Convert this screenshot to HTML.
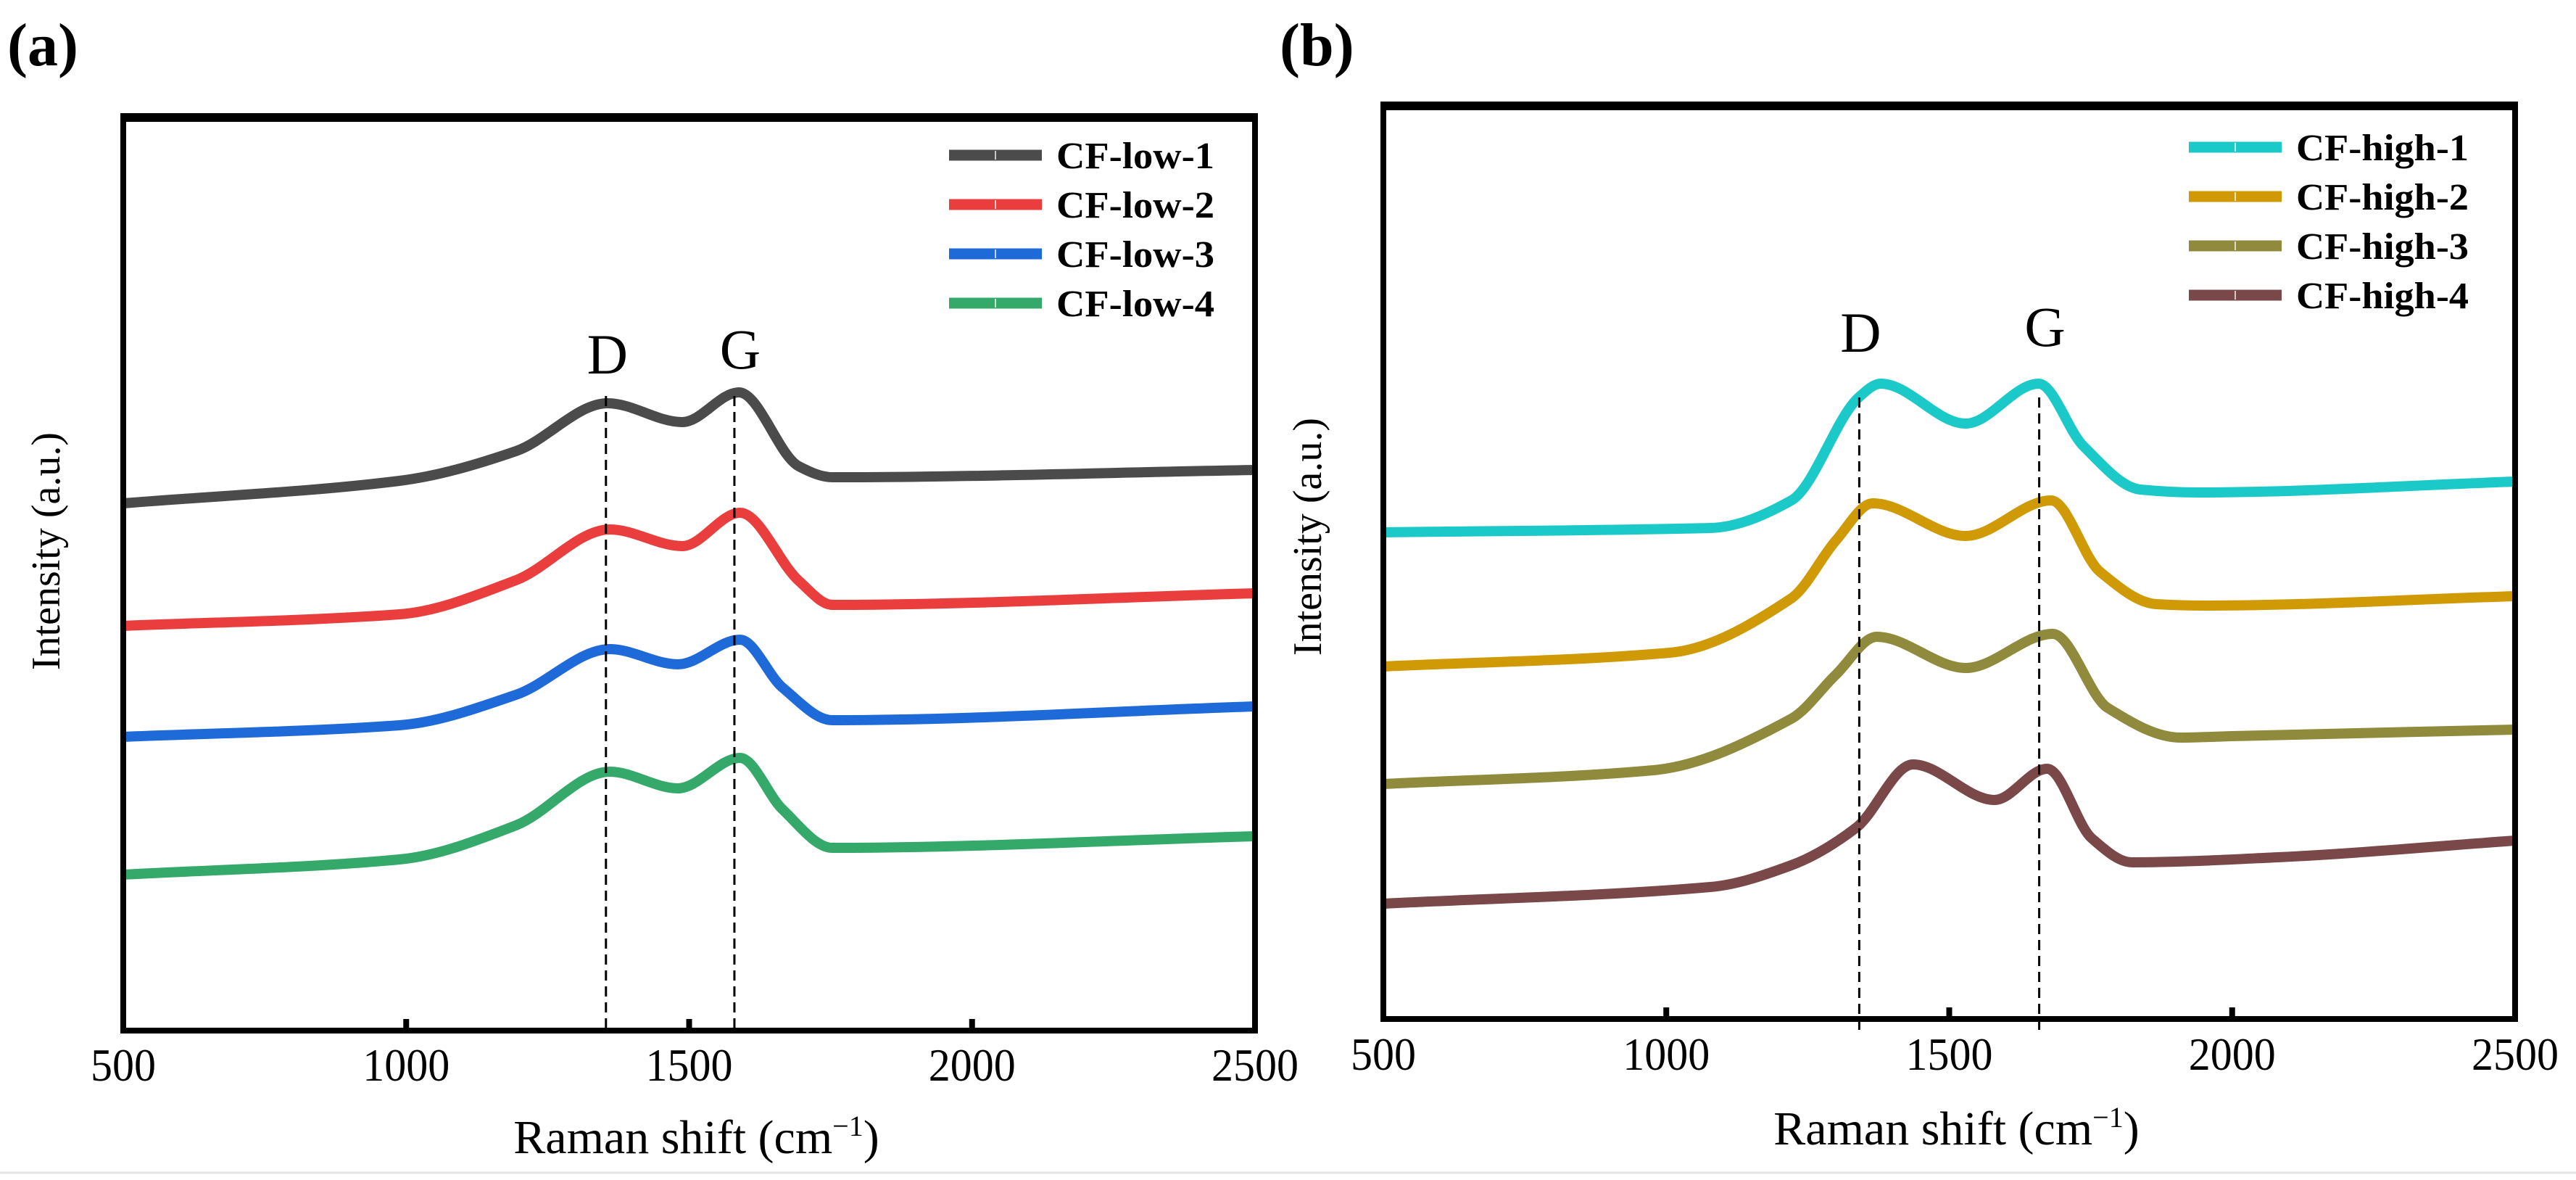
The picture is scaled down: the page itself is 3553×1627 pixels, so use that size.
<!DOCTYPE html>
<html><head><meta charset="utf-8"><style>
html,body{margin:0;padding:0;background:#fff;}
svg{display:block;}
text{font-family:"Liberation Serif",serif;fill:#000;}
</style></head><body>
<svg id="fig" width="3553" height="1627" viewBox="0 0 3553 1627" xmlns="http://www.w3.org/2000/svg">
<line x1="0" y1="1617" x2="3553" y2="1617" stroke="#e6e6e6" stroke-width="3"/>
</svg>
<script>
// ---- Panel (a) data ----
const xTicks = [500, 1000, 1500, 2000, 2500];
const xTickLabels = ["500", "1000", "1500", "2000", "2500"];
const lowNames = ["CF-low-1", "CF-low-2", "CF-low-3", "CF-low-4"];
const lowColors = ["#4b4b4b", "#ea3e3e", "#1e6ad8", "#35a96a"];
const lowX = [
  [500, 988, 1194, 1356, 1488, 1588, 1694, 1753, 2500],
  [500, 988, 1194, 1360, 1488, 1590, 1694, 1753, 2500],
  [500, 988, 1194, 1360, 1480, 1590, 1665, 1753, 2500],
  [500, 988, 1194, 1360, 1480, 1590, 1665, 1753, 2500]
];
const lowY = [
  [727, 758, 799, 865, 839, 880, 778, 763, 773],
  [558, 574, 621, 691, 668, 714, 620, 587, 603],
  [405, 421, 463, 526, 505, 539, 473, 428, 447],
  [215, 236, 283, 357, 334, 376, 305, 252, 268]
];
const lowPeaks = [1353, 1580];
// ---- Panel (b) data ----
const highNames = ["CF-high-1", "CF-high-2", "CF-high-3", "CF-high-4"];
const highColors = ["#1cc9c9", "#cf9a06", "#8f8a3c", "#7a4848"];
const highX = [
  [500, 1078, 1221, 1340, 1379, 1529, 1658, 1737, 1838, 1938, 2500],
  [500, 1006, 1221, 1300, 1365, 1529, 1680, 1766, 1866, 1950, 2500],
  [500, 977, 1221, 1300, 1372, 1529, 1683, 1780, 1909, 2000, 2500],
  [500, 1078, 1221, 1336, 1436, 1580, 1673, 1752, 1823, 2081, 2500]
];
const highY = [
  [671, 677, 715, 857, 876, 821, 876, 790, 730, 726, 741],
  [486, 505, 580, 660, 711, 666, 715, 617, 572, 570, 583],
  [324, 343, 414, 475, 527, 484, 531, 429, 388, 390, 399],
  [159, 182, 212, 264, 351, 302, 345, 249, 216, 223, 246]
];
const highPeaks = [1341, 1659];

const NS = "http://www.w3.org/2000/svg";
const svg = document.getElementById("fig");
function mk(tag, attrs, parent, txt) {
  const e = document.createElementNS(NS, tag);
  for (const k in attrs) e.setAttribute(k, attrs[k]);
  if (txt !== undefined) e.textContent = txt;
  (parent || svg).appendChild(e);
  return e;
}
// monotone cubic (Fritsch-Carlson) in x
function spline(pts) {
  const n = pts.length, d = [], m = [];
  for (let i = 0; i < n - 1; i++) d.push((pts[i+1][1] - pts[i][1]) / (pts[i+1][0] - pts[i][0]));
  m[0] = d[0]; m[n-1] = d[n-2];
  for (let i = 1; i < n - 1; i++) m[i] = (d[i-1] * d[i] <= 0) ? 0 : 2 / (1 / d[i-1] + 1 / d[i]);
  let s = "M" + pts[0][0] + "," + pts[0][1];
  for (let i = 0; i < n - 1; i++) {
    const h = pts[i+1][0] - pts[i][0];
    s += " C" + (pts[i][0] + h / 3) + "," + (pts[i][1] + m[i] * h / 3) + " " +
         (pts[i+1][0] - h / 3) + "," + (pts[i+1][1] - m[i+1] * h / 3) + " " + pts[i+1][0] + "," + pts[i+1][1];
  }
  return s;
}
function panel(cfg) {
  const g = mk("g", {});
  
  
  const L = cfg.left, R = cfg.right, T = cfg.top, B = cfg.bottom;
  const sx = v => L + (v - 500) / 2000 * (R - L);
  const sy = v => B - v;
  cfg.xs.forEach((xs, i) => {
    const pts = xs.map((x, j) => [sx(x), sy(cfg.ys[i][j])]);
    const p = mk("path", {d: spline(pts), fill: "none", stroke: cfg.colors[i], "stroke-width": 14, "stroke-linejoin": "round"}, g);
    
    
  });
  cfg.peaks.forEach((pk, i) => {
    const l = mk("line", {x1: sx(pk), x2: sx(pk), y1: cfg.dashTop, y2: cfg.dashBottom, stroke: "#000", "stroke-width": 3, "stroke-dasharray": "14,8"}, g);
    
    
    const t = mk("text", {x: sx(pk) + (i === 0 ? 2 : 8), y: cfg.labelY[i], "font-size": 78, "text-anchor": "middle"}, g, i === 0 ? "D" : "G");
    
    
  });
  const f = mk("rect", {x: L, y: T, width: R - L, height: B - T, fill: "none", stroke: "#000", "stroke-width": 8}, g);
  
  
  const topBar = mk("line", {x1: L - 4, x2: R + 4, y1: T, y2: T, stroke: "#000", "stroke-width": 12}, g);
  
  
  xTicks.forEach((v, i) => {
    if (i > 0 && i < xTicks.length - 1) {
      const tk = mk("line", {x1: sx(v), x2: sx(v), y1: B, y2: B - 16, stroke: "#000", "stroke-width": 8}, g);
      
      
    }
    const tl = mk("text", {x: sx(v), y: cfg.tickLabelY, "font-size": 64, "text-anchor": "middle", "textLength": xTickLabels[i].length * 30, "lengthAdjust": "spacingAndGlyphs"}, g, xTickLabels[i]);
    
    
  });
  const xt = mk("text", {x: (L + R) / 2 + 10, y: cfg.titleY, "font-size": 66, "text-anchor": "middle"}, g);
  
  
  mk("tspan", {}, xt, "Raman shift (cm");
  mk("tspan", {dy: -24, "font-size": 40}, xt, "\u22121");
  mk("tspan", {dy: 24}, xt, ")");
  const yt = mk("text", {x: 0, y: 0, "font-size": 56, "text-anchor": "middle", transform: "translate(" + cfg.yTitleX + "," + cfg.yTitleY + ") rotate(-90)"}, g, "Intensity (a.u.)");
  
  
  cfg.names.forEach((n, i) => {
    const y = cfg.legY + i * cfg.legStep;
    const lg = mk("g", {}, g);
    
    
    mk("line", {x1: cfg.legX, x2: cfg.legX + 128, y1: y, y2: y, stroke: cfg.colors[i], "stroke-width": 15}, lg);
    mk("line", {x1: cfg.legX + 64, x2: cfg.legX + 64, y1: y - 6, y2: y + 6, stroke: "#fff", "stroke-width": 2, "stroke-opacity": 0.7}, lg);
    mk("text", {x: cfg.legX + 148, y: y + 18, "font-size": 52, "font-weight": "bold", textLength: cfg.legW, lengthAdjust: "spacingAndGlyphs"}, lg, n);
  });
  const pl = mk("text", {x: cfg.letterX, y: 90, "font-size": 84, "font-weight": "bold"}, g, cfg.letter);
  
  
}
panel({id: "panel-a", letter: "(a)", letterX: 10, left: 170, right: 1731, top: 162, bottom: 1421,
  xs: lowX, ys: lowY, colors: lowColors, names: lowNames, peaks: lowPeaks,
  dashTop: 546, dashBottom: 1421, labelY: [515, 508], tickLabelY: 1490, titleY: 1590,
  yTitleX: 82, yTitleY: 760, legX: 1309, legY: 214, legStep: 68, legW: 218});
panel({id: "panel-b", letter: "(b)", letterX: 1765, left: 1908, right: 3469, top: 146, bottom: 1405,
  xs: highX, ys: highY, colors: highColors, names: highNames, peaks: highPeaks,
  dashTop: 548, dashBottom: 1426, labelY: [485, 477], tickLabelY: 1475, titleY: 1578,
  yTitleX: 1822, yTitleY: 740, legX: 3019, legY: 203, legStep: 68, legW: 238});
</script>
</body></html>
